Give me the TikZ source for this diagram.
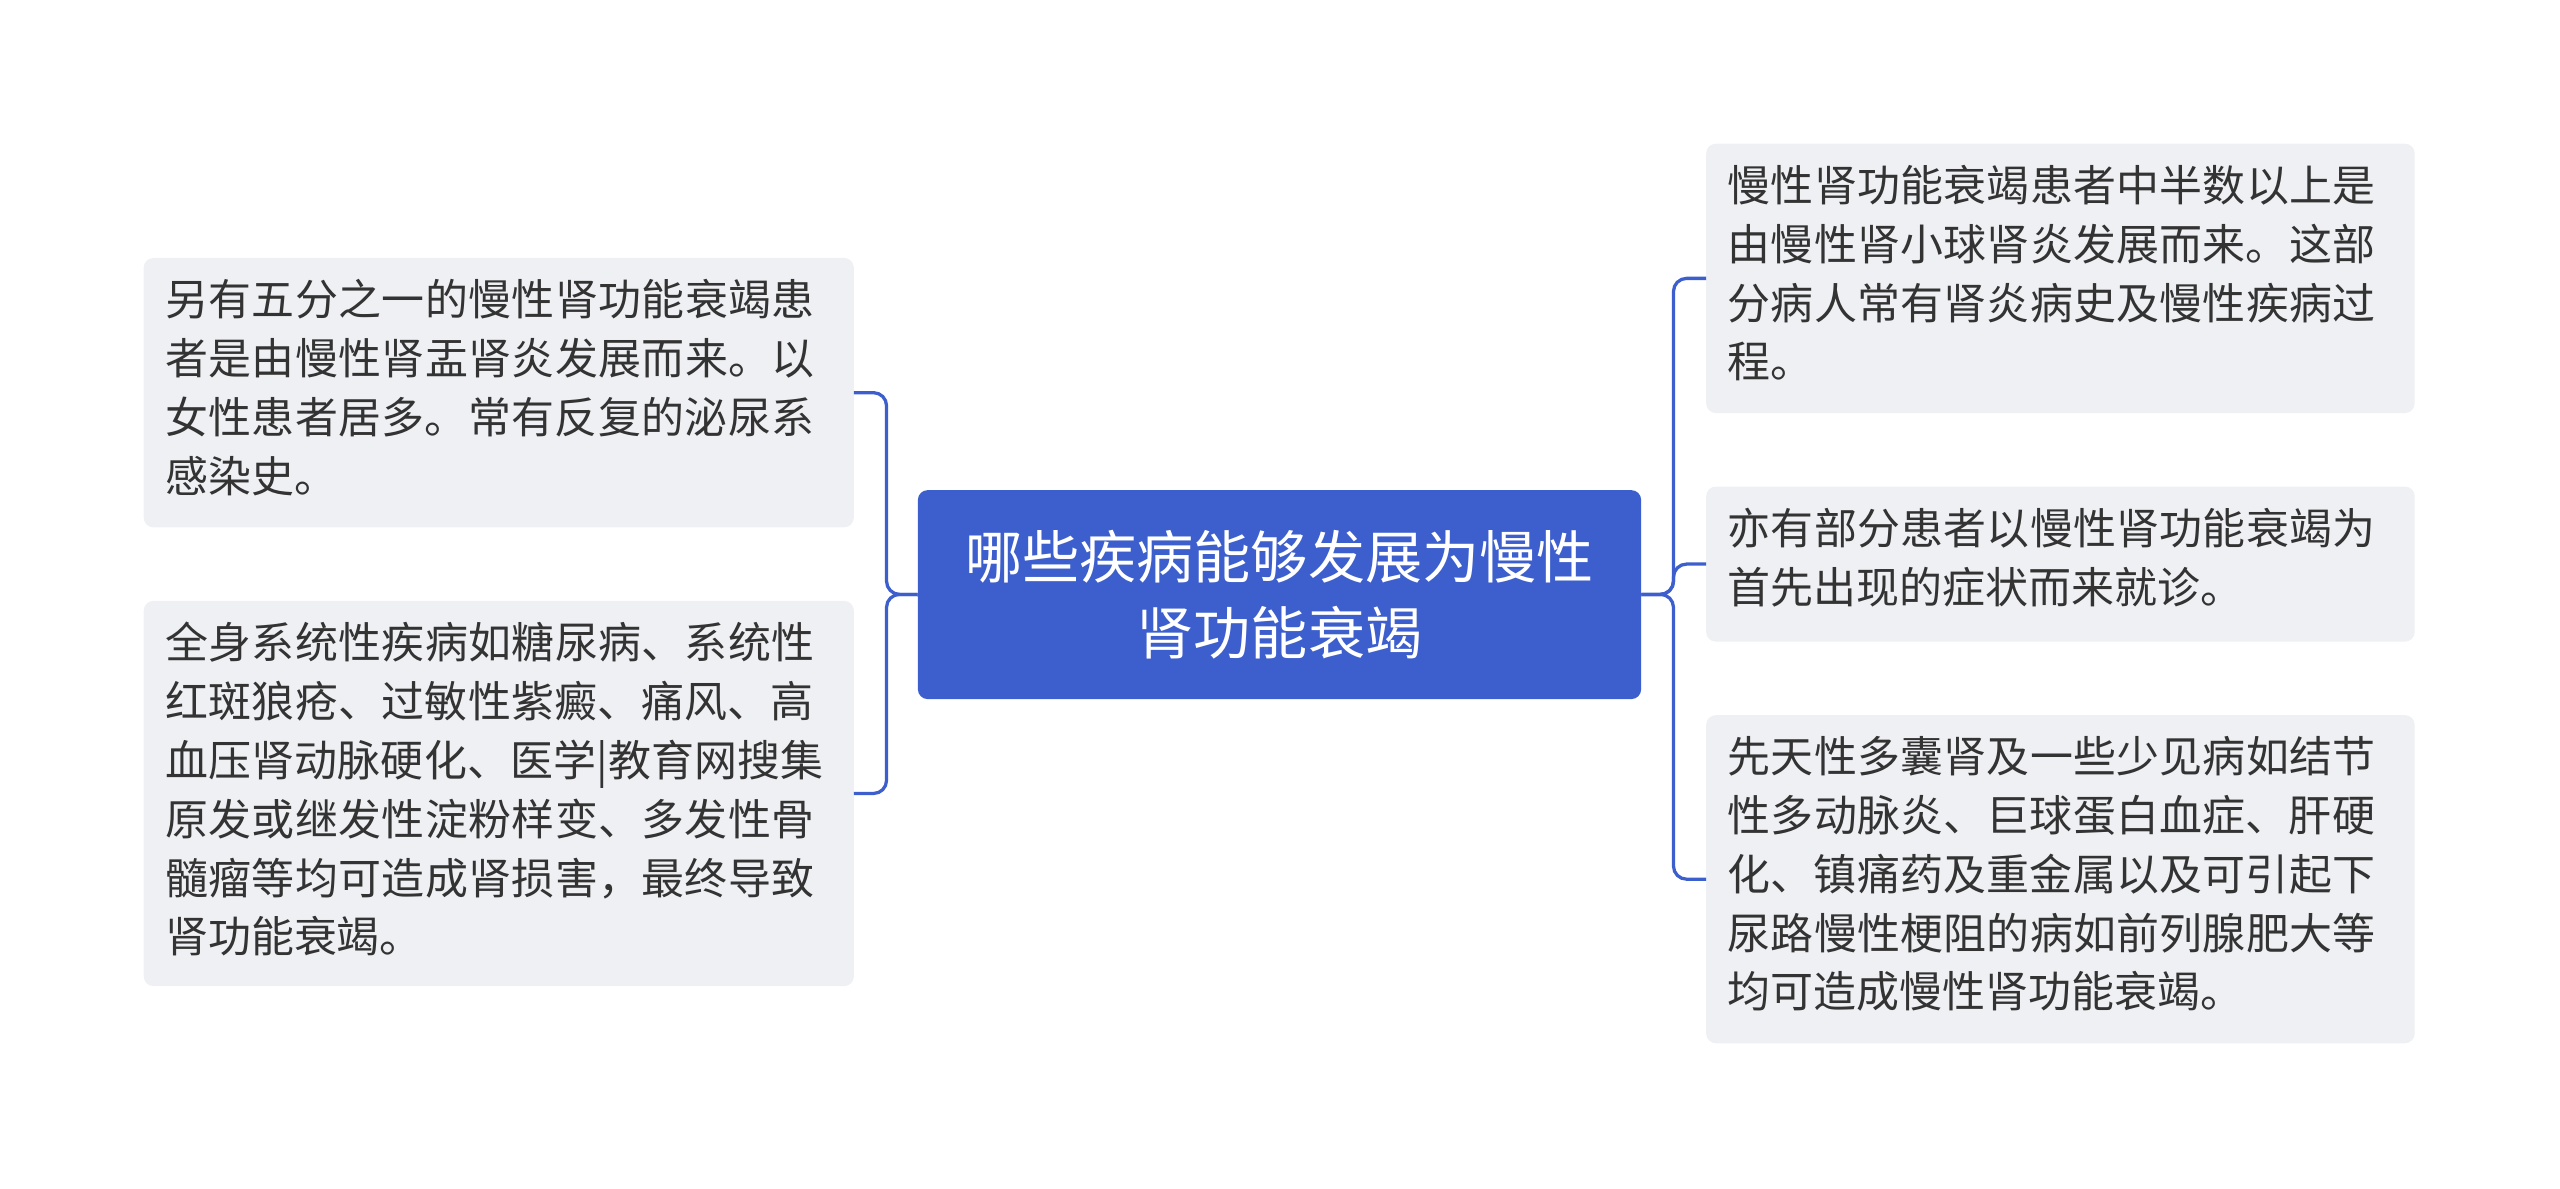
\documentclass[tikz,border=0pt]{standalone}
\usepackage{fontspec}
\setmainfont{Noto Sans CJK SC}
\XeTeXlinebreaklocale "zh"
\XeTeXlinebreakskip=0pt plus 1pt
\definecolor{blu}{HTML}{3D5FCD}
\definecolor{boxg}{HTML}{EEF0F3}
\definecolor{txt}{HTML}{333333}
\begin{document}
\begin{tikzpicture}[x=1pt,y=-1pt,
  ltxt/.style={text width=#1,align=left,font=\fontsize{26.3pt}{36pt}\selectfont,text=txt,inner sep=0pt,anchor=north west},
  conn/.style={draw=blu,line width=2pt,rounded corners=8pt}]
\useasboundingbox (0,0) rectangle (1568,728);
\node[fill=blu,rounded corners=6pt,minimum width=443pt,minimum height=128pt,anchor=north west,text=white,align=center,font=\fontsize{35pt}{46pt}\selectfont] (c) at (562,300) {哪些疾病能够发展为慢性\\肾功能衰竭};
\fill[boxg,rounded corners=6pt] (88,158) rectangle (523,323);
\node[ltxt=410pt] (l1) at (101,171) {另有五分之一的慢性肾功能衰竭患者是由慢性肾盂肾炎发展而来。以女性患者居多。常有反复的泌尿系感染史。};
\fill[boxg,rounded corners=6pt] (88,368) rectangle (523,604);
\node[ltxt=410pt] (l2) at (101,381) {全身系统性疾病如糖尿病、系统性红斑狼疮、过敏性紫癜、痛风、高血压肾动脉硬化、医学|教育网搜集原发或继发性淀粉样变、多发性骨髓瘤等均可造成肾损害，最终导致肾功能衰竭。};
\fill[boxg,rounded corners=6pt] (1045,88) rectangle (1479,253);
\node[ltxt=405pt] (r1) at (1058,101) {慢性肾功能衰竭患者中半数以上是由慢性肾小球肾炎发展而来。这部分病人常有肾炎病史及慢性疾病过程。};
\fill[boxg,rounded corners=6pt] (1045,298) rectangle (1479,393);
\node[ltxt=405pt] (r2) at (1058,311) {亦有部分患者以慢性肾功能衰竭为首先出现的症状而来就诊。};
\fill[boxg,rounded corners=6pt] (1045,438) rectangle (1479,639);
\node[ltxt=405pt] (r3) at (1058,451) {先天性多囊肾及一些少见病如结节性多动脉炎、巨球蛋白血症、肝硬化、镇痛药及重金属以及可引起下尿路慢性梗阻的病如前列腺肥大等均可造成慢性肾功能衰竭。};
\coordinate (L1) at (523,240.5);
\coordinate (L2) at (523,486);
\coordinate (R1) at (1045,170.5);
\coordinate (R2) at (1045,345.5);
\coordinate (R3) at (1045,538.5);
\draw[conn] (c.west) -- (543,364) |- (L1);
\draw[conn] (c.west) -- (543,364) |- (L2);
\draw[conn] (c.east) -- (1025,364) |- (R1);
\draw[conn] (c.east) -- (1025,364) |- (R2);
\draw[conn] (c.east) -- (1025,364) |- (R3);
\end{tikzpicture}
\end{document}
